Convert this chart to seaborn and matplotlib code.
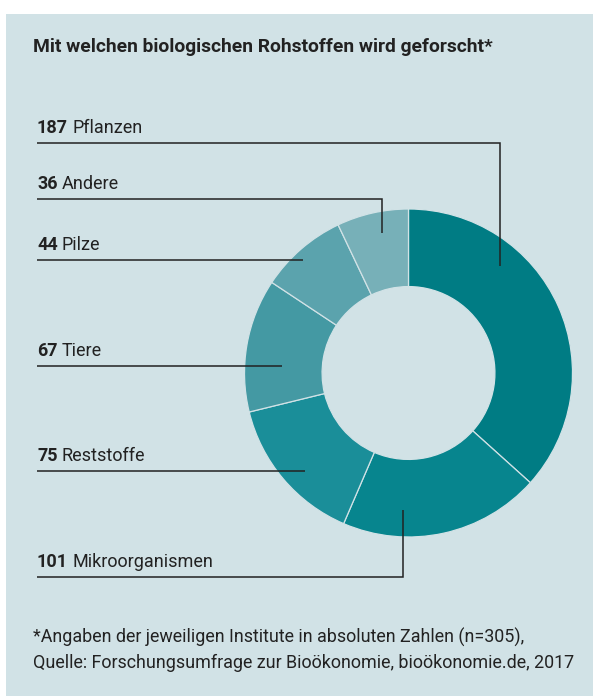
import numpy as np
import matplotlib
matplotlib.use("Agg")
import matplotlib.pyplot as plt
import seaborn as sns
from matplotlib.patches import Rectangle

# data (clockwise from 12 o'clock)
categories = ["Pflanzen", "Mikroorganismen", "Reststoffe", "Tiere", "Pilze", "Andere"]
counts = [187, 101, 75, 67, 44, 36]
colors = ["#007c84", "#07858e", "#1a8e99", "#4499a3", "#5ba3ad", "#77b0b8"]

title = "Mit welchen biologischen Rohstoffen wird geforscht*"
footnote = ["*Angaben der jeweiligen Institute in absoluten Zahlen (n=305),",
            "Quelle: Forschungsumfrage zur Bioökonomie, bioökonomie.de, 2017"]

# layout (pixels, y measured from top)
W, H = 593, 696
bg = "#d1e2e6"
ink = "#222222"
cx, cy, r = 408.5, 373, 164
label_x = 37
line_y = {"Pflanzen": 143, "Andere": 199, "Pilze": 260, "Tiere": 366,
          "Reststoffe": 471, "Mikroorganismen": 577}
# leader end points relative to centre, in units of radius; True = elbow
leader_end = {"Pflanzen": (0.558, 0.652, True), "Andere": (-0.162, 0.854, True),
              "Pilze": (-0.643, 0.689, False), "Tiere": (-0.771, 0.043, False),
              "Reststoffe": (-0.631, -0.598, False),
              "Mikroorganismen": (-0.034, -0.835, True)}

sns.set_theme(style="white")
plt.rcParams["font.family"] = ["Roboto", "DejaVu Sans"]

fig = plt.figure(figsize=(W / 100, H / 100), dpi=100)
fig.patch.set_facecolor("white")
fig.patches.append(Rectangle((6 / W, 0), 1, 1 - 14 / H, transform=fig.transFigure,
                             facecolor=bg, edgecolor="none", zorder=-10))

# pie in a y-up axes
pax = fig.add_axes([0, 0, 1, 1])
pax.set_facecolor("none")
pax.axis("off")
pax.pie(counts, colors=colors, startangle=90, counterclock=False,
        center=(cx, H - cy), radius=r,
        wedgeprops=dict(width=r * 0.473, edgecolor=bg, linewidth=0.9))
pax.set_xlim(0, W)
pax.set_ylim(0, H)
pax.set_aspect("auto")

# annotation axes, pixel coords from top
ax = fig.add_axes([0, 0, 1, 1])
ax.set_facecolor("none")
ax.set_xlim(0, W)
ax.set_ylim(H, 0)
ax.axis("off")

renderer = fig.canvas.get_renderer()
for cat, val in zip(categories, counts):
    ly = line_y[cat]
    dx, dy, elbow = leader_end[cat]
    ex = cx + dx * r
    ey = cy - dy * r
    if elbow:
        xs, ys = [label_x, ex, ex], [ly, ly, ey]
    else:
        xs, ys = [label_x, ex], [ly, ly]
    ax.plot(xs, ys, color=ink, lw=1.1, solid_capstyle="butt", solid_joinstyle="miter",
            zorder=5)
    t = ax.text(label_x, ly - 10, str(val), fontsize=13, fontweight="bold",
                color=ink, va="baseline", ha="left")
    bb = t.get_window_extent(renderer)
    ax.text(label_x + bb.width + 4, ly - 10, cat, fontsize=13, color=ink,
            va="baseline", ha="left")

ax.text(33, 52, title, fontsize=13.9, fontweight="bold", color=ink,
        va="baseline", ha="left")
ax.text(33, 643, footnote[0], fontsize=12.9, color=ink, va="baseline", ha="left")
ax.text(33, 668, footnote[1], fontsize=12.9, color=ink, va="baseline", ha="left")

fig.savefig("out.png", dpi=100, facecolor=fig.get_facecolor())
